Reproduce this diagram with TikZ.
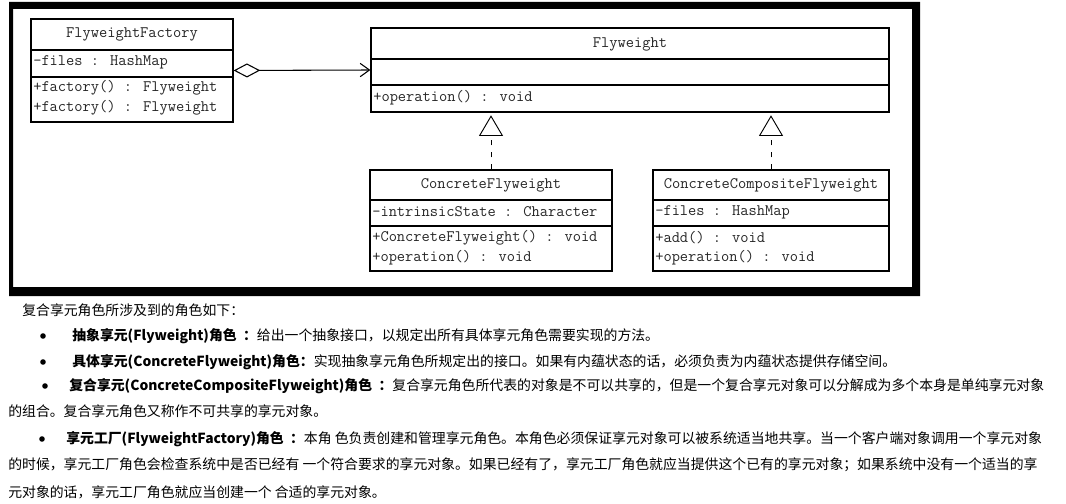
\documentclass[tikz,border=0pt]{standalone}
\usepackage{fontspec}
\newfontfamily\cjk{Noto Sans CJK SC}
\usetikzlibrary{arrows.meta}

\begin{document}
\begin{tikzpicture}[
  x=0.75pt, y=-0.75pt,
  umlbox/.style={draw, line width=0.9pt, inner sep=0pt},
  cname/.style={font=\ttfamily\fontsize{12}{14}\selectfont, text=black!85, inner sep=0pt},
  member/.style={font=\ttfamily\fontsize{12}{14}\selectfont, text=black!85, anchor=west, inner sep=0pt},
  aggr/.style={{Diamond[open, length=20pt, width=10.5pt]}-{Straight Barb[length=7pt, width=10pt]}, line width=0.8pt},
  realize/.style={-{Triangle[open, length=15.5pt, width=18pt]}, line width=0.7pt, dash pattern=on 4pt off 5pt},
  bodytext/.style={font=\cjk\fontsize{10.4}{13}\selectfont, anchor=west, inner sep=0pt},
  dot/.style={circle, fill=black, inner sep=0pt, minimum size=4.2pt}
]
\useasboundingbox[fill=white] (0,0) rectangle (1066,503);

% thick frame round the class diagram
\fill[black, even odd rule] (9,2) rectangle (920,296) (13,9) rectangle (912,287);

% FlyweightFactory
\node[umlbox, minimum width=151.5pt, minimum height=77.25pt] (ff) at (132,70.5) {};
\draw[line width=0.9pt] (31,50) -- (233,50) (31,77) -- (233,77);
\node[cname] (ffname) at (132,34) {FlyweightFactory};
\node[member] (ffattr) at (33,62) {-files : HashMap};
\node[member] (ffop1) at (33,88) {+factory() : Flyweight};
\node[member] (ffop2) at (33,108) {+factory() : Flyweight};

% Flyweight
\node[umlbox, minimum width=388.5pt, minimum height=63pt] (fw) at (630,70) {};
\draw[line width=0.9pt] (371,59) -- (889,59) (371,85) -- (889,85);
\node[cname] (fwname) at (630,44) {Flyweight};
\node[member] (fwop) at (373,98) {+operation() : void};

% ConcreteFlyweight
\node[umlbox, minimum width=181.5pt, minimum height=75.75pt] (cf) at (491,220.5) {};
\draw[line width=0.9pt] (370,200) -- (612,200) (370,226) -- (612,226);
\node[cname] (cfname) at (491,185) {ConcreteFlyweight};
\node[member] (cfattr) at (372,212) {-intrinsicState : Character};
\node[member] (cfop1) at (372,238) {+ConcreteFlyweight() : void};
\node[member] (cfop2) at (372,258) {+operation() : void};

% ConcreteCompositeFlyweight
\node[umlbox, minimum width=177pt, minimum height=75.75pt] (ccf) at (771,220.5) {};
\draw[line width=0.9pt] (653,200) -- (889,200) (653,226) -- (889,226);
\node[cname] (ccfname) at (771,185) {ConcreteCompositeFlyweight};
\node[member] (ccfattr) at (655,212) {-files : HashMap};
\node[member] (ccfop1) at (655,238) {+add() : void};
\node[member] (ccfop2) at (655,258) {+operation() : void};

% connectors
\draw[aggr] (ff.east) -- (fw.west);
\draw[realize, shorten >=2pt] (cf.north) -- (cf.north |- fw.south);
\draw[realize, shorten >=2pt] (ccf.north) -- (ccf.north |- fw.south);

% text below the diagram
\node[bodytext] (intro) at (22,310) {复合享元角色所涉及到的角色如下：};
\node[dot] (b1) at (43,336) {};
\node[bodytext] (t1) at (72,336) {\bfseries 抽象享元(Flyweight)角色 \ ：\mdseries 给出一个抽象接口，以规定出所有具体享元角色需要实现的方法。};
\node[dot] (b2) at (43,362) {};
\node[bodytext] (t2) at (72,362) {\bfseries 具体享元(ConcreteFlyweight)角色：\mdseries 实现抽象享元角色所规定出的接口。如果有内蕴状态的话，必须负责为内蕴状态提供存储空间。};
\node[dot] (b3) at (45,386) {};
\node[bodytext] (t3) at (69,386) {\bfseries 复合享元(ConcreteCompositeFlyweight)角色 \ ：\mdseries 复合享元角色所代表的对象是不可以共享的，但是一个复合享元对象可以分解成为多个本身是单纯享元对象};
\node[bodytext] (t3b) at (8,411) {的组合。复合享元角色又称作不可共享的享元对象。};
\node[dot] (b4) at (42,439) {};
\node[bodytext] (t4) at (66,439) {\bfseries 享元工厂(FlyweightFactory)角色 \ ：\mdseries 本角 色负责创建和管理享元角色。本角色必须保证享元对象可以被系统适当地共享。当一个客户端对象调用一个享元对象};
\node[bodytext] (t4b) at (8,465) {的时候，享元工厂角色会检查系统中是否已经有 一个符合要求的享元对象。如果已经有了，享元工厂角色就应当提供这个已有的享元对象；如果系统中没有一个适当的享};
\node[bodytext] (t4c) at (8,492) {元对象的话，享元工厂角色就应当创建一个 合适的享元对象。};

\end{tikzpicture}
\end{document}
